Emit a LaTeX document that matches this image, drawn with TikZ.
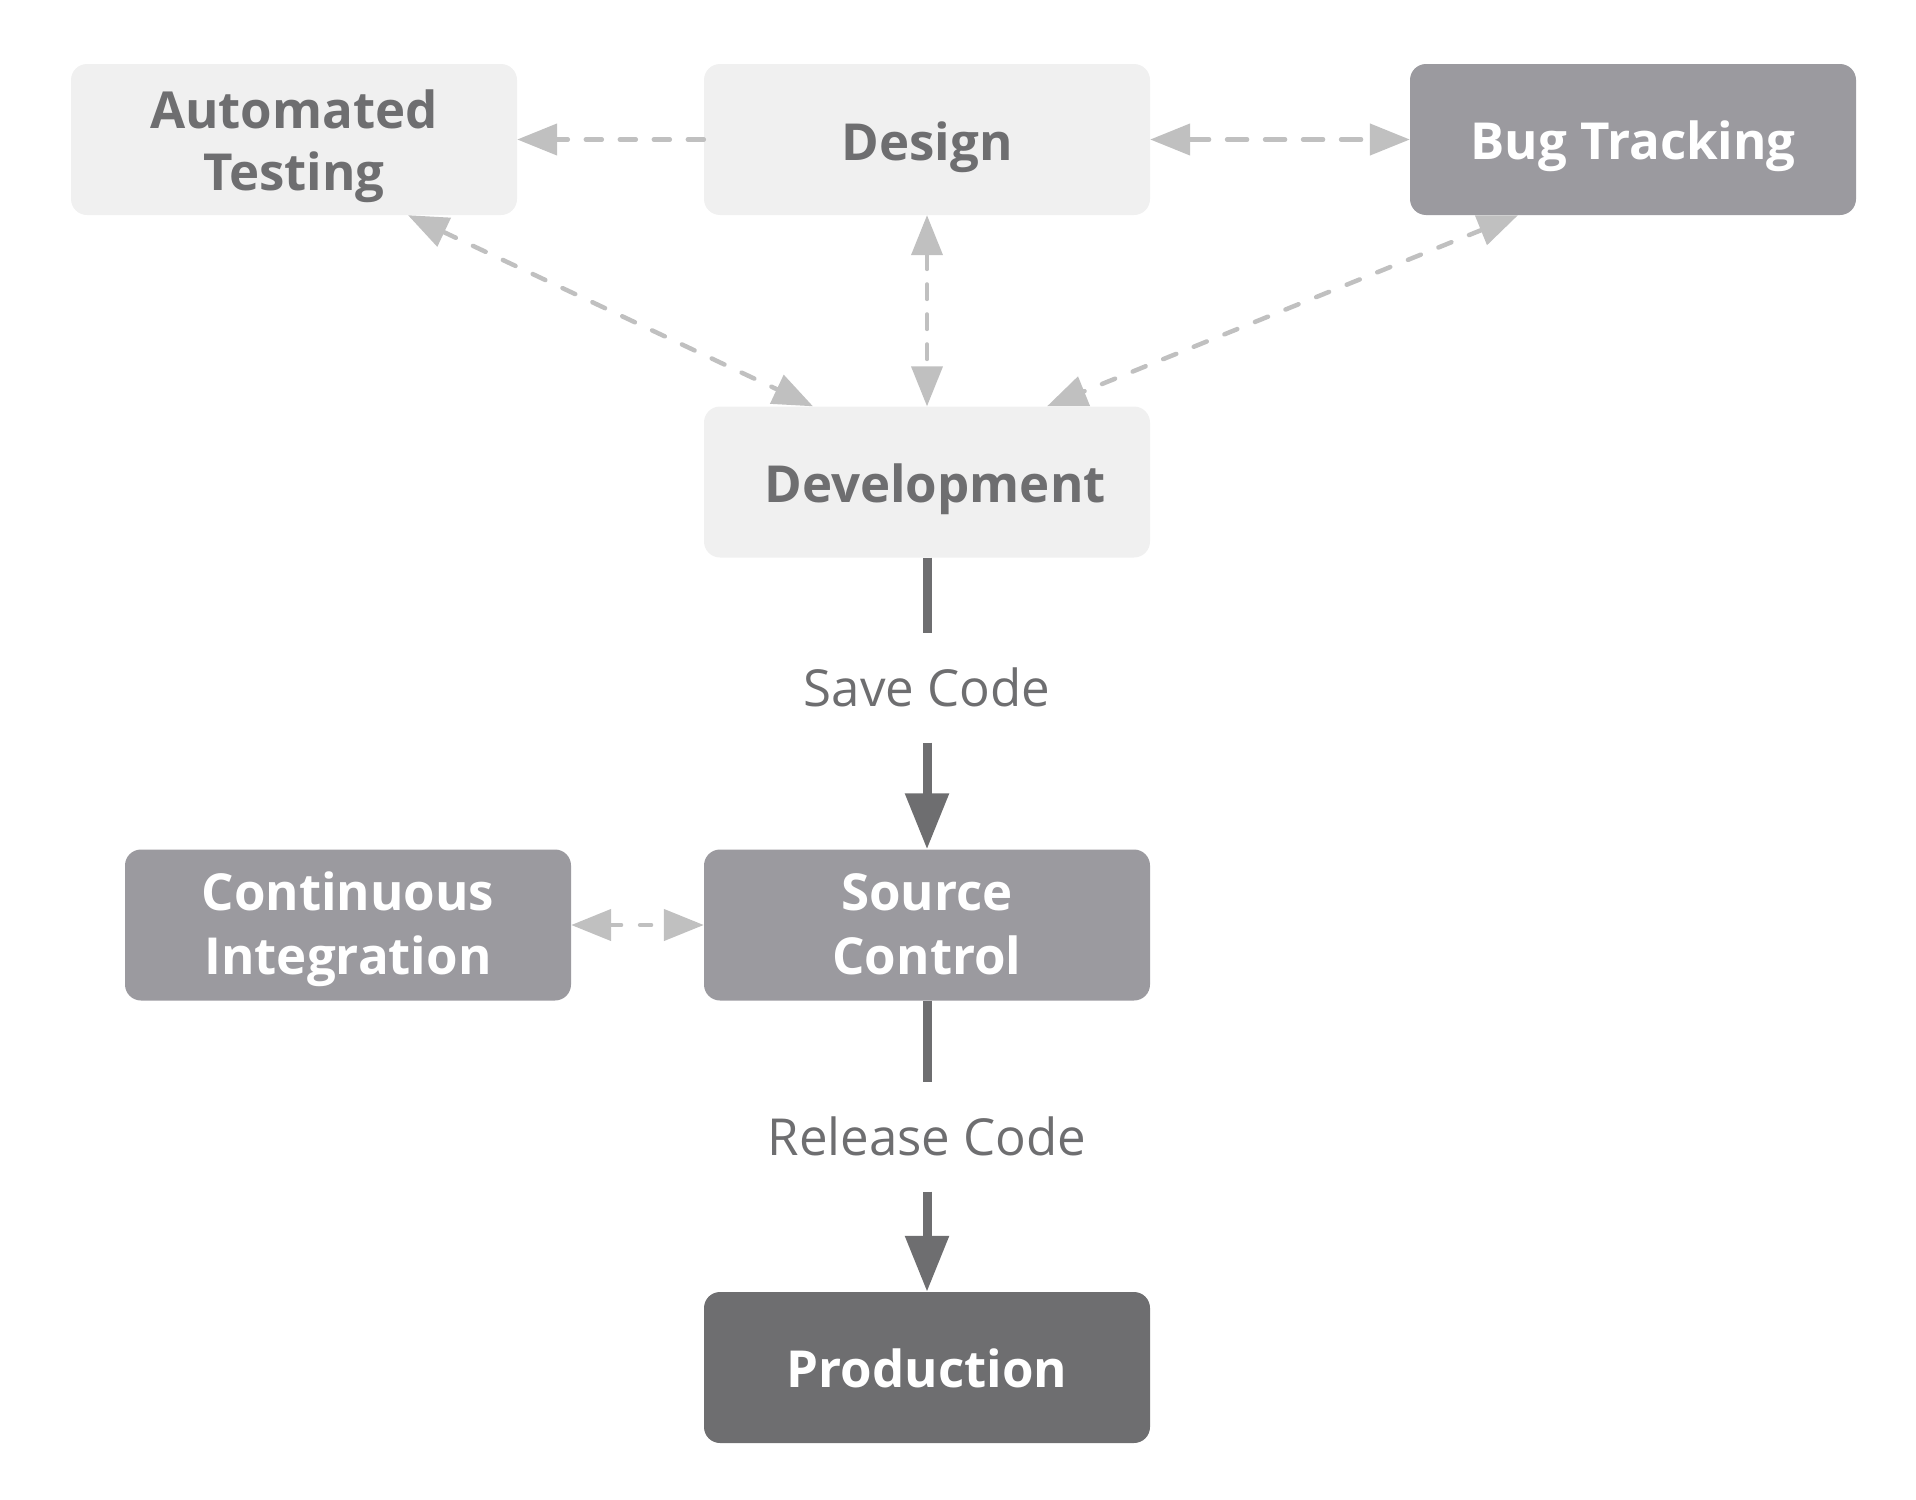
\documentclass[tikz,border=0pt]{standalone}
\usepackage{fontspec}
\setmainfont{Open Sans}
\usetikzlibrary{arrows.meta}
\definecolor{cLight}{RGB}{240,240,240}
\definecolor{cMid}{RGB}{155,154,159}
\definecolor{cDark}{RGB}{110,110,112}
\definecolor{cText}{RGB}{110,110,112}
\definecolor{cDash}{RGB}{192,192,192}
\tikzset{
  ltip/.tip={Triangle[length=40pt,width=31pt]},
  dtip/.tip={Triangle[length=56pt,width=42pt]},
}
\begin{document}
\begin{tikzpicture}[x=1pt,y=-1pt,
  box/.style={rectangle, rounded corners=16pt, minimum width=446pt, minimum height=151pt, inner sep=0pt, draw=none},
  boxlight/.style={box, fill=cLight},
  boxmid/.style={box, fill=cMid},
  boxdark/.style={box, fill=cDark},
  title/.style={font=\fontsize{51}{61}\selectfont\bfseries, anchor=base, inner sep=0pt},
  titledark/.style={title, text=cText},
  titlewhite/.style={title, text=white},
  lbl/.style={font=\fontsize{51}{60}\selectfont, text=cText, text height=36.5pt, text depth=0pt, inner xsep=0pt, inner ysep=36.5pt},
  ldash/.style={draw=cDash, line width=4.5pt, line cap=round},
  dsolid/.style={draw=cDark, line width=9pt},
]
\useasboundingbox (0,0) rectangle (1916,1499);

% boxes
\node[boxlight] (at) at (294,139.5) {};
\node[boxlight] (des) at (927,139.5) {};
\node[boxmid] (bt) at (1633,139.5) {};
\node[boxlight] (dev) at (927,482) {};
\node[boxmid] (ci) at (348,925) {};
\node[boxmid] (sc) at (927,925) {};
\node[boxdark] (prod) at (927,1367.5) {};

% box texts
\node[titledark] (atA) at (294,128) {Automated};
\node[titledark] (atB) at (294,190) {Testing};
\node[titledark] (desT) at (927,160) {Design};
\node[titlewhite] (btT) at (1633,159) {Bug Tracking};
\node[titledark] (devT) at (935,502) {Development};
\node[titlewhite] (ciA) at (348,910) {Continuous};
\node[titlewhite] (ciB) at (348,974) {Integration};
\node[titlewhite] (scA) at (927,910) {Source};
\node[titlewhite] (scB) at (927,974) {Control};
\node[titlewhite] (prodT) at (927,1387) {Production};

% labels
\node[lbl] (save) at (927,687.75) {Save Code};
\node[lbl] (rel) at (927,1136.75) {Release Code};

% light dashed connectors
\draw[ldash, dash pattern=on 16pt off 18pt, -ltip] (des.west) -- (at.east);
\draw[ldash, dash pattern=on 20pt off 18pt, ltip-ltip] (des.east) -- (bt.west);
\draw[ldash, line width=4pt, dash pattern=on 15pt off 15pt, ltip-ltip] (des.south) -- (dev.north);
\draw[ldash, dash pattern=on 14pt off 19pt, ltip-ltip] ([xshift=114pt]at.south) -- ([xshift=-114pt]dev.north);
\draw[ldash, dash pattern=on 14pt off 19pt, ltip-ltip] ([xshift=-115pt]bt.south) -- ([xshift=120pt]dev.north);
\draw[ldash, dash pattern=on 11pt off 19pt, ltip-ltip] (ci.east) -- (sc.west);

% solid flow
\draw[dsolid] (dev.south) -- (save.north);
\draw[dsolid, -dtip] (save.south) -- (sc.north);
\draw[dsolid] (sc.south) -- (rel.north);
\draw[dsolid, -dtip] (rel.south) -- (prod.north);
\end{tikzpicture}
\end{document}
